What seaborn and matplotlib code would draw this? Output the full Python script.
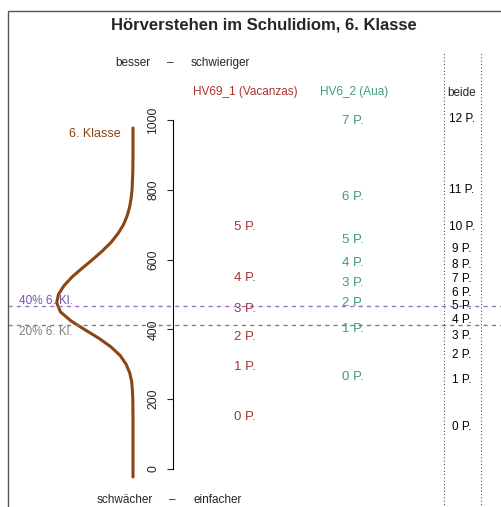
import numpy as np
import pandas as pd
import matplotlib
matplotlib.use("Agg")
import matplotlib.pyplot as plt
import seaborn as sns
from matplotlib.patches import Rectangle

# Punktgrenzen (Skalenwerte) je Aufgabe
hv69_punkte = ["0 P.", "1 P.", "2 P.", "3 P.", "4 P.", "5 P."]
hv69_werte = [149, 292, 378, 458, 547, 693]
hv62_punkte = ["0 P.", "1 P.", "2 P.", "3 P.", "4 P.", "5 P.", "6 P.", "7 P."]
hv62_werte = [264, 401, 475, 533, 590, 656, 779, 997]
beide_punkte = ["0 P.", "1 P.", "2 P.", "3 P.", "4 P.", "5 P.", "6 P.",
                "7 P.", "8 P.", "9 P.", "10 P.", "11 P.", "12 P."]
beide_werte = [120, 255, 327, 381, 427, 467, 504, 544, 584, 630, 693, 799, 1003]

# Perzentile 6. Klasse
p40 = 468
p20 = 413

# Dichte der 6. Klasse
dichte_score = [-23, 0, 50, 100, 150, 200, 225, 250, 275, 300, 325, 350, 375,
                400, 425, 450, 476, 500, 525, 550, 575, 600, 625, 650, 675,
                700, 725, 750, 775, 800, 850, 900, 977]
dichte_wert = [0, 0, 0, 0, 0, 0.00001, 0.00003, 0.00007, 0.00017, 0.00036,
               0.00067, 0.00116, 0.0018, 0.00255, 0.00327, 0.0038, 0.004,
               0.00391, 0.00362, 0.0032, 0.00267, 0.00212, 0.0016, 0.00114,
               0.00078, 0.0005, 0.00031, 0.00018, 0.0001, 0.00005, 0.00001,
               0, 0]

sns.set_style("white")
plt.rcParams["font.family"] = ["Liberation Sans", "DejaVu Sans"]

W, H = 501, 507
fig = plt.figure(figsize=(W / 100, H / 100), dpi=100)
ax = fig.add_axes([0, 0, 1, 1])
ax.patch.set_alpha(0)
ax.set_xlim(0, W)
ax.set_ylim(-108.9, 1343.8)


def fy(py):
    return 1 - py / H


# Rahmen
fig.patches.append(Rectangle((8 / W, -0.1), 1.2, fy(11) + 0.1, transform=fig.transFigure,
                             fill=False, edgecolor="#555555", lw=1))

# y-Achse
for s in ["top", "right", "bottom"]:
    ax.spines[s].set_visible(False)
ax.spines["left"].set_position(("data", 172.7))
ax.spines["left"].set_bounds(0, 1000)
ax.spines["left"].set_color("black")
ax.spines["left"].set_linewidth(0.8)
ax.set_xticks([])
ax.set_yticks(range(0, 1001, 200))
ax.tick_params(axis="y", direction="out", length=4.5, width=0.8, pad=5,
               labelsize=8.8, labelrotation=90, left=True)
plt.setp(ax.get_yticklabels(), va="center")

# Dichtekurve
basis = 133
breite = 76.3 / 0.004
df = pd.DataFrame({"score": dichte_score, "dichte": dichte_wert})
df["x"] = basis - df["dichte"] * breite
sns.lineplot(data=df, x="x", y="score", orient="y", estimator=None,
             color="#8B4513", lw=2.2, ax=ax)
ax.set_xlabel("")
ax.set_ylabel("")
ax.text(121, 960, "6. Klasse", color="#8B4513", fontsize=9, ha="right", va="center")

# Perzentillinien
ax.plot([8, W], [p40, p40], color="#9a74d0", lw=1, dashes=(3, 3))
ax.plot([8, W], [p20, p20], color="#808080", lw=1, dashes=(3, 3))
ax.text(19, p40 + 14, "40% 6. Kl.", color="#7a4fb3", fontsize=8.5, ha="left", va="center")
ax.text(19, p20 - 21, "20% 6. Kl.", color="#808080", fontsize=8.5, ha="left", va="center")

# Punktespalten
for lab, v in zip(hv69_punkte, hv69_werte):
    ax.text(245, v, lab, color="#a83232", fontsize=9.5, ha="center", va="center")
for lab, v in zip(hv62_punkte, hv62_werte):
    ax.text(353, v, lab, color="#3f9a7e", fontsize=9.5, ha="center", va="center")
for lab, v in zip(beide_punkte, beide_werte):
    ax.text(462, v, lab, color="black", fontsize=8.5, ha="center", va="center")

# gepunktete Trennlinien
for xl in [444, 481]:
    ax.plot([xl, xl], [-120, (469 - 53) / 0.349], color="#555555", lw=0.8,
            ls=(0, (1, 2)))

# Überschriften
fig.text(264 / W, fy(25), "Hörverstehen im Schulidiom, 6. Klasse",
         fontsize=12, fontweight="bold", ha="center", va="center")
fig.text(150 / W, fy(63), "besser", fontsize=8.5, ha="right", va="center")
fig.text(170 / W, fy(63), "–", fontsize=8.5, ha="center", va="center")
fig.text(191 / W, fy(63), "schwieriger", fontsize=8.5, ha="left", va="center")
fig.text(245 / W, fy(92), "HV69_1 (Vacanzas)", color="#a83232", fontsize=8.5,
         ha="center", va="center")
fig.text(354 / W, fy(92), "HV6_2 (Aua)", color="#3f9a7e", fontsize=8.5,
         ha="center", va="center")
fig.text(462 / W, fy(93), "beide", fontsize=8.5, ha="center", va="center")
fig.text(153 / W, fy(500), "schwächer", fontsize=8.5, ha="right", va="center")
fig.text(172 / W, fy(500), "–", fontsize=8.5, ha="center", va="center")
fig.text(193 / W, fy(500), "einfacher", fontsize=8.5, ha="left", va="center")

fig.savefig("out.png", dpi=100)
